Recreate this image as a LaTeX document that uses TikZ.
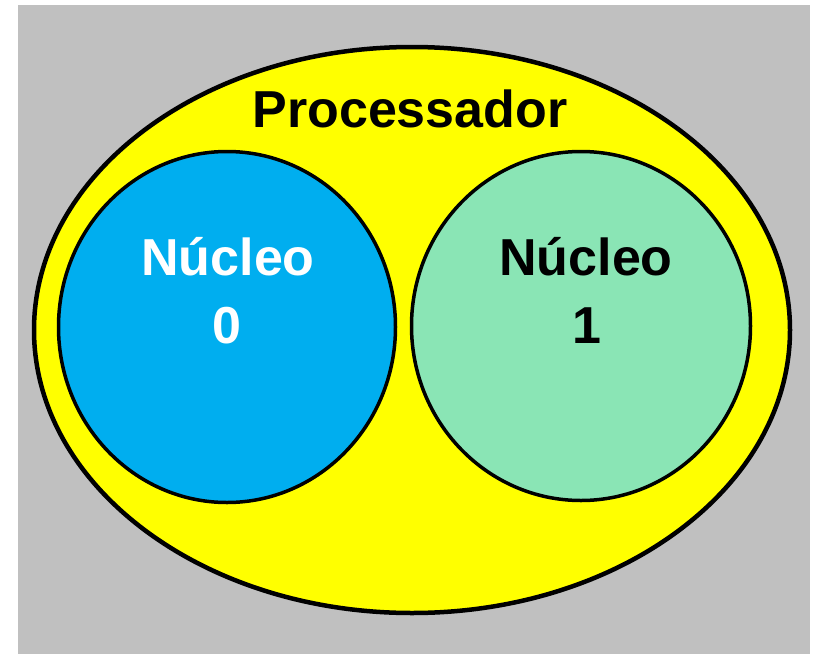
\documentclass[tikz,border=0pt]{standalone}
\usepackage{fontspec}
\setmainfont{Liberation Sans}
\usetikzlibrary{shapes.geometric}
\definecolor{fundo}{RGB}{192,192,192}
\definecolor{amarelo}{RGB}{255,255,0}
\definecolor{azul}{RGB}{0,174,239}
\definecolor{verde}{RGB}{138,229,181}
\tikzset{
  oval/.style={ellipse, draw=black, inner sep=0pt},
  rotulo/.style={anchor=base, font=\fontsize{52}{60}\selectfont\bfseries}
}
\begin{document}
\begin{tikzpicture}[x=1pt, y=-1pt]
\useasboundingbox[fill=white](0,0) rectangle (817,654);
\fill[fundo](18,5) rectangle (810,654);
% processador e os dois nucleos
\node[oval, line width=4.5pt, fill=amarelo, minimum width=756pt, minimum height=566pt] (proc) at (412,330) {};
\node[oval, line width=3.5pt, fill=azul, minimum width=337pt, minimum height=351pt] (nucleo0) at (227,327) {};
\node[oval, line width=3.5pt, fill=verde, minimum width=339pt, minimum height=349pt] (nucleo1) at (581,326) {};
\node[rotulo] (tproc) at (410,127) {Processador};
\node[rotulo, white] (tnuc0) at (228,275) {Núcleo};
\node[rotulo, white] (tnum0) at (227,343) {0};
\node[rotulo] (tnuc1) at (586,275) {Núcleo};
\node[rotulo] (tnum1) at (587,343) {1};
\end{tikzpicture}
\end{document}
